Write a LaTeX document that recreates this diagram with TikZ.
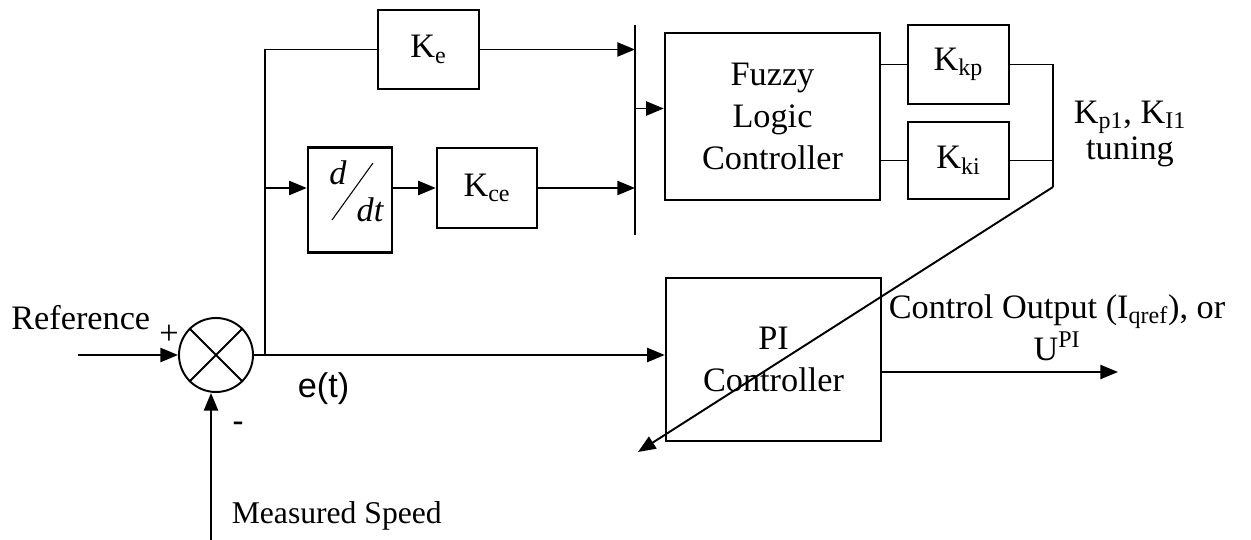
\documentclass[tikz,border=0pt]{standalone}
\usepackage{fontspec}
\setmainfont{Liberation Serif}
\newfontfamily\arialfont{Liberation Sans}
\usetikzlibrary{arrows.meta, positioning, calc}

\begin{document}
\begin{tikzpicture}[font=\fontsize{19.5}{24}\selectfont, line width=1.1pt, >={Triangle[length=10pt,width=8pt]},
  blk/.style={draw, line width=1.4pt, inner sep=0pt, align=center}]
\useasboundingbox (0,0) rectangle (25.02,-10.8);
% summing junction
\node[draw, circle, minimum size=1.48cm, inner sep=0pt] (sum) at (4.32,-7.1) {};
\draw (sum.north west) -- (sum.south east) (sum.north east) -- (sum.south west);
% blocks
\node[blk, minimum width=2.02cm, minimum height=1.58cm] (ke) at (8.57,-0.99) {K\textsubscript{e}};
\node[blk, minimum width=1.68cm, minimum height=2.1cm] (ddt) at (7.0,-4.0) {};
\draw[line width=0.6pt] ([xshift=-0.36cm,yshift=-0.4cm]ddt.center) -- ([xshift=0.46cm,yshift=0.74cm]ddt.center);
\node[font=\fontsize{19.5}{24}\selectfont\itshape] (dnum) at ([xshift=-0.24cm,yshift=0.54cm]ddt.center) {d};
\node[font=\fontsize{19.5}{24}\selectfont\itshape] (dden) at ([xshift=0.4cm,yshift=-0.2cm]ddt.center) {dt};
\node[blk, minimum width=2cm, minimum height=1.6cm] (kce) at (9.74,-3.76) {K\textsubscript{ce}};
\node[blk, minimum width=4.3cm, minimum height=3.34cm] (flc) at (15.45,-2.33) {Fuzzy\\Logic\\Controller};
\node[blk, minimum width=2.02cm, minimum height=1.58cm] (kkp) at (19.17,-1.29) {K\textsubscript{kp}};
\node[blk, minimum width=2.02cm, minimum height=1.54cm] (kki) at (19.17,-3.21) {K\textsubscript{ki}};
\node[blk, minimum width=4.3cm, minimum height=3.26cm] (pi) at (15.47,-7.19) {PI\\Controller};
% coordinates
\coordinate (refin) at (1.56,-7.1);
\coordinate (split) at (5.3,-7.1);
\coordinate (bartop) at (12.7,-0.5);
\coordinate (barbot) at (12.7,-4.7);
\coordinate (tune) at (21.06,-3.74);
\coordinate (tuneend) at (12.76,-9.04);
\coordinate (out) at (22.36,-7.44);
\coordinate (meas) at (4.22,-10.8);
% connectors
\draw[->] (refin) -- (sum.west);
\draw[->] (meas) -- (meas |- sum.south);
\draw[->] (sum.east) -- (sum.east -| pi.west);
\draw (split) |- (ke.west);
\draw[->] (ke.east) -- (ke.east -| bartop);
\draw[->] (split |- kce.west) -- (kce.west -| ddt.west);
\draw[->] (kce.west -| ddt.east) -- (kce.west);
\draw[->] (kce.east) -- (kce.east -| bartop);
\draw (bartop) -- (barbot);
\draw[->] ([yshift=0.16cm]flc.west -| bartop) -- ([yshift=0.16cm]flc.west);
\draw (kkp.west -| flc.east) -- (kkp.west);
\draw (kki.west -| flc.east) -- (kki.west);
\draw (kkp.east) -| (tune);
\draw (kki.east) -- (kki.east -| tune);
\draw[->] (tune) -- (tuneend);
\draw[->] (pi.east |- out) -- (out);
% labels
\node[anchor=east] (reflbl) at (3.14,-6.36) {Reference};
\node (plus) at (3.38,-6.7) {+};
\node[font=\fontsize{19.5}{24}\arialfont] (minus) at (4.76,-8.55) {-};
\node[font=\fontsize{19.5}{24}\arialfont] (elbl) at (6.47,-7.78) {e(t)};
\node[anchor=west, font=\fontsize{18}{22}\selectfont] (measlbl) at (4.5,-10.32) {Measured Speed};
\node[align=center] (outlbl) at (21.14,-6.55) {Control Output (I\textsubscript{qref}), or\\U\textsuperscript{PI}};
\node[align=center] (tunelbl) at (22.6,-2.68) {K\textsubscript{p1}, K\textsubscript{I1}\\[-3pt]tuning};
\end{tikzpicture}
\end{document}
